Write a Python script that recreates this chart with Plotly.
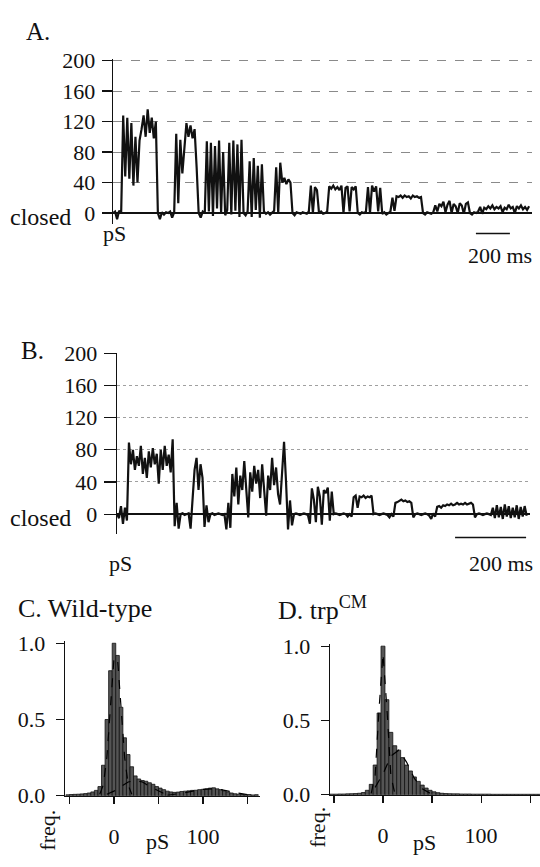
import numpy as np
import plotly.graph_objects as go

# ---------------- data ----------------
# Panel A: single-channel conductance trace (pS), sampled every 12 ms
A_DT_MS = 12
A_pS = [
    0, 2, -8, 3, 0, 128, 48, 125, 45, 118,
    36, 100, 40, 95, 110, 128, 100, 136, 105, 125,
    98, 120, 0, -8, 1, -2, 1, 0, 2, -6,
    1, 104, 13, 96, 52, 88, 118, 100, 115, 98,
    110, 60, 0, -6, 2, 0, 94, 2, 92, -4,
    88, 6, 95, 0, 80, -3, 4, 92, -2, 95,
    3, 90, -5, 96, 0, -3, 2, 68, -5, 72,
    4, 62, -6, 64, 2, -1, 1, -2, 0, 3,
    60, 0, 66, 40, 46, 38, 44, 40, 0, -3,
    1, 0, -1, 1, 0, -1, 2, 36, 0, 34,
    30, 0, 2, -1, 0, 2, 35, 32, 36, 31,
    34, 30, 36, 0, 33, 35, 2, 34, 31, 35,
    0, -2, 1, 0, 2, 34, 0, 36, 28, 35,
    2, 33, -1, 1, -2, 0, 2, 20, 3, 22,
    21, 23, 20, 23, 21, 22, 19, 23, 21, 22,
    20, 21, 0, -2, 1, 0, -1, 1, 10, 2,
    12, 9, 15, 1, 11, 16, 0, 12, 9, 0,
    13, 10, -1, 12, 14, 0, -2, 1, 0, 2,
    8, -1, 7, 5, 9, 6, 10, 5, 8, 6,
    9, 1, 7, 5, 11, 6, 8, 0, 9, 6,
    10, 5, 8, 4, 9,
]

# Panel B: trace (pS), sampled every 5.6 ms
B_DT_MS = 5.6
B_pS = [
    0, -5, 10, -12, 8, -8, 89, 62, 80, 55,
    72, 60, 85, 50, 70, 45, 78, 58, 82, 62,
    75, 38, 80, 55, 85, 60, 74, 52, 93, -15,
    14, -18, 0, 1, -1, 0, 1, -18, 18, 55,
    70, 30, 62, 45, -16, 11, -10, 0, 1, -1,
    0, 1, 0, -1, 0, -19, 14, -17, 50, 22,
    58, 12, 48, 30, 66, 35, -4, 52, 28, 60,
    38, 55, 20, 62, 34, -2, 48, 30, 70, 36,
    58, 25, 12, 55, 90, 40, -19, 17, -14, 0,
    1, 0, -1, 0, 1, 0, -1, -12, 32, 18,
    -10, 34, 22, -13, 30, 26, 33, -8, 28, 0,
    1, 0, -1, 0, 1, 0, -3, 0, -3, 21,
    23, 8, 22, 21, 23, 20, 22, 21, 23, 0,
    1, 0, -1, 0, 1, 0, -1, -4, 0, -3,
    14, 15, 17, 18, 16, 17, 15, 16, 14, -4,
    0, 1, 0, -1, 0, 1, 0, -2, -6, 1,
    -3, 9, 10, 8, 11, 10, 12, 11, 13, 11,
    12, 14, 12, 13, 12, 14, 12, 13, 14, 12,
    -4, 0, 1, 0, -1, 0, 1, 0, -1, 8,
    -5, 11, -4, 9, -6, 12, -3, 10, -5, 8,
    -4, 11, -6, 9, -3, 10, -2,
]

TRACE_TICKS = [0, 40, 80, 120, 160, 200]
SCALE_MS = 200

# Histograms: bin centres (pS), width 4 pS
HIST_BINS = list(range(-52, 161, 4))
C_freq = [
    0.006, 0.008, 0.009, 0.010, 0.012, 0.014, 0.018, 0.025, 0.035, 0.06,
    0.20, 0.50, 0.82, 1.00, 0.92, 0.58, 0.38, 0.27, 0.19, 0.13,
    0.11, 0.10, 0.095, 0.085, 0.075, 0.06, 0.05, 0.04, 0.03, 0.025,
    0.022, 0.024, 0.028, 0.030, 0.032, 0.035, 0.036, 0.040, 0.042, 0.045,
    0.050, 0.052, 0.045, 0.040, 0.032, 0.025, 0.018, 0.013, 0.010, 0.008,
    0.006, 0.008, 0.005, 0.007,
]
D_freq = [
    0.004, 0.004, 0.005, 0.005, 0.006, 0.007, 0.008, 0.010, 0.015, 0.03,
    0.07, 0.20, 0.55, 1.00, 0.64, 0.42, 0.33, 0.30, 0.25, 0.20,
    0.16, 0.12, 0.09, 0.065, 0.045, 0.03, 0.02, 0.014, 0.010, 0.008,
    0.007, 0.006, 0.006, 0.005, 0.005, 0.005, 0.004, 0.004, 0.004, 0.004,
    0.004, 0.003, 0.003, 0.003, 0.003, 0.003, 0.003, 0.003, 0.003, 0.003,
    0.003, 0.003, 0.003, 0.003,
]
# fitted components
C_fit1_x = [-16, -12, -8, -4, 0, 4, 8, 12, 16, 20]
C_fit1_y = [0.01, 0.07, 0.25, 0.58, 0.90, 0.90, 0.58, 0.25, 0.07, 0.01]
C_fit2_x = [-8, 0, 8, 16, 24, 32, 40, 48, 56, 64]
C_fit2_y = [0.01, 0.03, 0.06, 0.09, 0.10, 0.09, 0.06, 0.035, 0.015, 0.005]
C_fit3_x = [60, 70, 80, 90, 100, 110, 120, 130, 140, 150, 160]
C_fit3_y = [0.003, 0.01, 0.02, 0.032, 0.042, 0.045, 0.04, 0.028, 0.016, 0.007, 0.002]
D_fit1_x = [-12, -8, -4, 0, 4, 8, 12]
D_fit1_y = [0.01, 0.13, 0.58, 0.95, 0.58, 0.13, 0.01]
D_fit2_x = [-8, 0, 8, 16, 24, 32, 40, 48]
D_fit2_y = [0.05, 0.14, 0.26, 0.30, 0.22, 0.11, 0.04, 0.01]
HIST_TICKS = [-50, 0, 50, 100, 150]
HIST_TICKTEXT = ["", "0", "", "100", ""]

# ---------------- figure ----------------
W, H = 540, 867
FONT = "Liberation Serif"
INK = "#111111"


def px(x):
    return x / W


def py(y):
    return 1 - y / H


tA = np.arange(len(A_pS)) * A_DT_MS
tB = np.arange(len(B_pS)) * B_DT_MS

fig = go.Figure()
fig.add_trace(go.Scatter(x=tA, y=A_pS, mode="lines", xaxis="x", yaxis="y",
                         line=dict(color=INK, width=2.2), hoverinfo="skip"))
fig.add_trace(go.Scatter(x=tB, y=B_pS, mode="lines", xaxis="x2", yaxis="y2",
                         line=dict(color=INK, width=2.2), hoverinfo="skip"))

for xs, ys, xa, ya in [(HIST_BINS, C_freq, "x3", "y3"), (HIST_BINS, D_freq, "x4", "y4")]:
    fig.add_trace(go.Bar(x=xs, y=ys, width=4, xaxis=xa, yaxis=ya,
                         marker=dict(color="#555555", line=dict(color=INK, width=0.8)),
                         hoverinfo="skip"))

for xs, ys, xa, ya in [(C_fit1_x, C_fit1_y, "x3", "y3"), (C_fit2_x, C_fit2_y, "x3", "y3"),
                       (C_fit3_x, C_fit3_y, "x3", "y3"),
                       (D_fit1_x, D_fit1_y, "x4", "y4"), (D_fit2_x, D_fit2_y, "x4", "y4")]:
    fig.add_trace(go.Scatter(x=xs, y=ys, mode="lines", xaxis=xa, yaxis=ya,
                             line=dict(color="#000000", width=1.2, dash="dash"),
                             hoverinfo="skip"))

tickfont = dict(family=FONT, size=22, color=INK)
hidden_x = dict(visible=False, showgrid=False, zeroline=False, fixedrange=True)

layout = dict(
    width=W, height=H,
    margin=dict(l=0, r=0, t=0, b=0),
    paper_bgcolor="white", plot_bgcolor="rgba(0,0,0,0)",
    showlegend=False, bargap=0,
    font=dict(family=FONT, size=22, color=INK),
    xaxis=dict(domain=[px(113), px(532)], range=[0, 2465], anchor="y", **hidden_x),
    yaxis=dict(domain=[py(218), py(48)], range=[-14, 202.5], anchor="x",
               showline=True, linecolor=INK, linewidth=1.3,
               ticks="outside", ticklen=10, tickwidth=1.2, tickcolor=INK,
               tickvals=TRACE_TICKS, tickfont=tickfont, ticklabelstandoff=2,
               showgrid=True, gridcolor="#8a8a8a", griddash="dash", gridwidth=1,
               zeroline=True, zerolinecolor=INK, zerolinewidth=1.3),
    xaxis2=dict(domain=[px(117), px(530)], range=[0, 1163], anchor="y2", **hidden_x),
    yaxis2=dict(domain=[py(537), py(351)], range=[-24.1, 200.5], anchor="x2",
                showline=True, linecolor=INK, linewidth=1.3,
                ticks="outside", ticklen=12, tickwidth=1.2, tickcolor=INK,
                tickvals=TRACE_TICKS, tickfont=tickfont, ticklabelstandoff=2,
                showgrid=True, gridcolor="#a0a0a0", griddash="dot", gridwidth=1,
                zeroline=True, zerolinecolor=INK, zerolinewidth=1.3),
    xaxis3=dict(domain=[px(65), px(260)], range=[-55, 164], anchor="y3",
                showline=True, linecolor=INK, linewidth=1.3,
                ticks="outside", ticklen=7, tickwidth=1.2, tickcolor=INK,
                tickvals=HIST_TICKS, ticktext=HIST_TICKTEXT, tickfont=tickfont,
                ticklabelstandoff=14, showgrid=False, zeroline=False),
    yaxis3=dict(domain=[py(807), py(648)], range=[0, 1.0127], anchor="x3",
                showline=True, linecolor=INK, linewidth=1.3,
                ticks="outside", ticklen=8, tickwidth=1.2, tickcolor=INK,
                tickvals=[0, 0.5, 1.0], ticktext=["0.0", "0.5", "1.0"],
                tickfont=tickfont, ticklabelstandoff=6, showgrid=False, zeroline=False),
    xaxis4=dict(domain=[px(330), px(540)], range=[-54, 160], anchor="y4",
                showline=True, linecolor=INK, linewidth=1.3,
                ticks="outside", ticklen=7, tickwidth=1.2, tickcolor=INK,
                tickvals=HIST_TICKS, ticktext=HIST_TICKTEXT, tickfont=tickfont,
                ticklabelstandoff=14, showgrid=False, zeroline=False),
    yaxis4=dict(domain=[py(806), py(651)], range=[0, 1.013], anchor="x4",
                showline=True, linecolor=INK, linewidth=1.3,
                ticks="outside", ticklen=8, tickwidth=1.2, tickcolor=INK,
                tickvals=[0, 0.5, 1.0], ticktext=["0.0", "0.5", "1.0"],
                tickfont=tickfont, ticklabelstandoff=6, showgrid=False, zeroline=False),
)
fig.update_layout(**layout)

# scale bars (200 ms) in data units of each trace's time axis
fig.add_shape(type="line", xref="x", yref="paper", x0=2135, x1=2135 + SCALE_MS,
              y0=py(228), y1=py(228), line=dict(color=INK, width=1.5))
fig.add_shape(type="line", xref="x2", yref="paper", x0=952, x1=952 + SCALE_MS,
              y0=py(541), y1=py(541), line=dict(color=INK, width=1.5))


def note(text, x, y, size=22, xanchor="center", angle=0):
    fig.add_annotation(text=text, x=px(x), y=py(y), xref="paper", yref="paper",
                       showarrow=False, xanchor=xanchor, yanchor="middle",
                       textangle=angle, font=dict(family=FONT, size=size, color=INK))


note("A.", 24, 20, size=25, xanchor="left")
note("closed", 73, 211, size=24, xanchor="right")
note("pS", 114, 228)
note(f"{SCALE_MS} ms", 500, 251)

note("B.", 19, 349, size=25, xanchor="left")
note("closed", 73, 521, size=24, xanchor="right")
note("pS", 120, 568)
note(f"{SCALE_MS} ms", 501, 568)

note("C. Wild-type", 16, 614, size=26, xanchor="left")
note("freq.", 48, 843, angle=-90)
note("pS", 157, 854)

note("D. trp<sup>CM</sup>", 276, 614, size=26, xanchor="left")
note("freq.", 318, 840, angle=-90)
note("pS", 424, 855)

fig.write_html(
    "out.html",
    config={"displayModeBar": False, "staticPlot": True},
    post_script="document.body.style.margin='0';document.body.style.overflow='hidden';",
)
